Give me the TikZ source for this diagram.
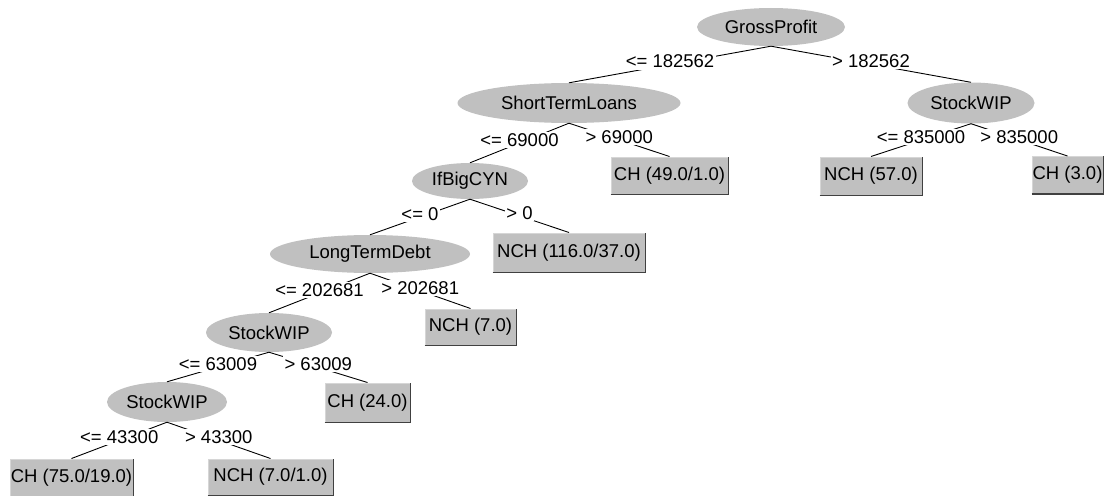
\documentclass[tikz,border=0pt]{standalone}
\usepackage{fontspec}
\setmainfont{Liberation Sans}
\usetikzlibrary{shapes.geometric}
\definecolor{nodegray}{RGB}{192,192,192}
\definecolor{lightedge}{RGB}{214,214,214}
\definecolor{darkedge}{RGB}{64,64,64}
\tikzset{
  treefont/.style={font=\fontsize{18.5}{22}\selectfont},
  split/.style={ellipse, fill=nodegray, inner sep=0pt, treefont},
  leaf/.style={rectangle, fill=nodegray, draw=lightedge, line width=1pt, inner sep=0pt, treefont},
  edge/.style={draw=black, line width=0.9pt},
  lbl/.style={fill=white, inner sep=1.5pt, yshift=3pt, treefont},
  shadowedge/.style={draw=darkedge, line width=1.2pt}
}
\begin{document}
\begin{tikzpicture}[x=1pt, y=-1pt]
\useasboundingbox (0,0) rectangle (1105,495);

% split nodes
\node[split, minimum width=148, minimum height=38] (gp)  at (771,27)  {GrossProfit};
\node[split, minimum width=223, minimum height=40] (stl) at (569,103) {ShortTermLoans};
\node[split, minimum width=127, minimum height=41] (swR) at (971,103) {StockWIP};
\node[split, minimum width=116, minimum height=36] (ibc) at (470,181) {IfBigCYN};
\node[split, minimum width=200, minimum height=38] (ltd) at (370,254) {LongTermDebt};
\node[split, minimum width=126, minimum height=39] (swM) at (269,332.5) {StockWIP};
\node[split, minimum width=120, minimum height=40] (swL) at (167,402) {StockWIP};

% leaves
\node[leaf, minimum width=117, minimum height=37] (chA)  at (669.5,175.5) {CH (49.0/1.0)};
\node[leaf, minimum width=102, minimum height=38] (nchB) at (871,176)     {NCH (57.0)};
\node[leaf, minimum width=71,  minimum height=37] (chC)  at (1067.5,175)  {CH (3.0)};
\node[leaf, minimum width=152, minimum height=39] (nchD) at (569,252.5)   {NCH (116.0/37.0)};
\node[leaf, minimum width=91,  minimum height=36] (nchE) at (470.5,327)   {NCH (7.0)};
\node[leaf, minimum width=85,  minimum height=39] (chF)  at (367.5,402.5) {CH (24.0)};
\node[leaf, minimum width=123, minimum height=37] (chG)  at (71.5,477.5)  {CH (75.0/19.0)};
\node[leaf, minimum width=125, minimum height=36] (nchH) at (270.5,477)   {NCH (7.0/1.0)};

% raised look: dark bottom and right edges of leaves
\foreach \n in {chA,nchB,chC,nchD,nchE,chF,chG,nchH}
  \draw[shadowedge] (\n.south west) -- (\n.south east) -- (\n.north east);

% branches with their tests
\draw[edge] (gp.south)  -- node[lbl] {<= 182562} (stl.north);
\draw[edge] (gp.south)  -- node[lbl] {> 182562}  (swR.north);
\draw[edge] (stl.south) -- node[lbl] {<= 69000}  (ibc.north);
\draw[edge] (stl.south) -- node[lbl] {> 69000}   (chA.north);
\draw[edge] (swR.south) -- node[lbl] {<= 835000} (nchB.north);
\draw[edge] (swR.south) -- node[lbl] {> 835000}  (chC.north);
\draw[edge] (ibc.south) -- node[lbl] {<= 0}      (ltd.north);
\draw[edge] (ibc.south) -- node[lbl] {> 0}       (nchD.north);
\draw[edge] (ltd.south) -- node[lbl] {<= 202681} (swM.north);
\draw[edge] (ltd.south) -- node[lbl] {> 202681}  (nchE.north);
\draw[edge] (swM.south) -- node[lbl] {<= 63009}  (swL.north);
\draw[edge] (swM.south) -- node[lbl] {> 63009}   (chF.north);
\draw[edge] (swL.south) -- node[lbl] {<= 43300}  (chG.north);
\draw[edge] (swL.south) -- node[lbl] {> 43300}   (nchH.north);
\end{tikzpicture}
\end{document}
